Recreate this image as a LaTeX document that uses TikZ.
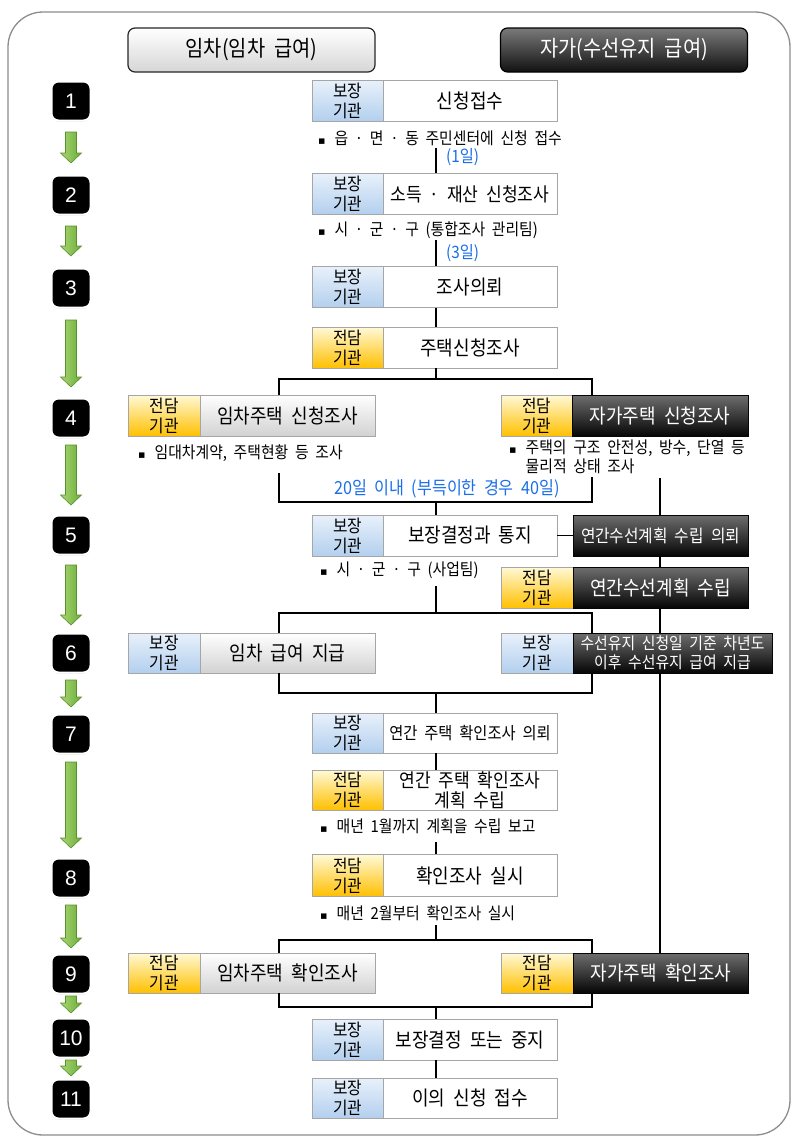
\documentclass[tikz,border=0pt]{standalone}
\usepackage{fontspec}
\setmainfont[WordSpace=2,FakeStretch=0.9]{Noto Sans CJK KR}
\newfontfamily\symf{DejaVu Sans}
\newfontfamily\numf{Liberation Sans}
\usetikzlibrary{shadows}
\definecolor{bgray}{HTML}{A6A6A6}
\definecolor{bluT}{HTML}{E8F1FB}
\definecolor{bluB}{HTML}{B3CFEE}
\definecolor{yelT}{HTML}{FFF9D6}
\definecolor{yelB}{HTML}{FFC000}
\definecolor{grayB}{HTML}{D2D2D2}
\definecolor{dkT}{HTML}{6E6E6E}
\definecolor{dkB}{HTML}{050505}
\definecolor{hdG}{HTML}{D6D6D6}
\definecolor{hdT}{HTML}{7A7A7A}
\definecolor{hdB}{HTML}{111111}
\definecolor{dayblue}{HTML}{1A6FE8}
\definecolor{grnL}{HTML}{A9D871}
\definecolor{grnM}{HTML}{6AAB3A}
\definecolor{grnD}{HTML}{5A8F2E}
\definecolor{framegray}{HTML}{8C8C8C}
\newcommand\blt{{\symf\fontsize{11}{12}\selectfont ▪}\hspace{9pt}}
\newcommand\garr[2]{\draw[garrow] (65.5,#1) -- (76.5,#1) -- (76.5,#2-10) -- (81.5,#2-10) -- (71,#2) -- (60.5,#2-10) -- (65.5,#2-10) -- cycle;}
\tikzset{
 base/.style={draw=bgray, line width=0.8pt, inner sep=0pt, align=center, minimum height=41pt},
 lab/.style={base, minimum width=71pt, font=\fontsize{17.5}{20}\selectfont},
 blu/.style={lab, top color=bluT, bottom color=bluB},
 yel/.style={lab, top color=yelT, bottom color=yelB},
 wbox/.style={base, fill=white, minimum width=174pt, font=\fontsize{20}{21}\selectfont},
 gbox/.style={base, top color=white, bottom color=grayB, minimum width=175pt, font=\fontsize{20}{21}\selectfont},
 dbox/.style={base, draw=dkB, top color=dkT, bottom color=dkB, text=white, minimum width=175pt, font=\fontsize{20}{21}\selectfont},
 note/.style={anchor=west, inner sep=0pt, font=\fontsize{16.5}{19}\selectfont},
 days/.style={inner sep=0pt, text=dayblue, font=\fontsize{17}{19}\selectfont},
 conn/.style={line width=1.6pt, black},
 badge/.style={fill=black, draw=white, line width=2pt, rounded corners=7pt, minimum width=39pt, minimum height=39pt, inner sep=0pt, text=white, font=\numf\fontsize{21}{21}\selectfont, drop shadow={shadow xshift=0pt, shadow yshift=-1pt, opacity=0.4, fill=gray}},
 garrow/.style={draw=grnD, line width=0.6pt, left color=grnL, right color=grnM},
 hdr/.style={rounded corners=7pt, line width=1.2pt, minimum width=247pt, minimum height=44pt, inner sep=0pt, font=\fontsize{22}{24}\selectfont},
}
\begin{document}
\begin{tikzpicture}[x=1pt,y=-1pt]
\useasboundingbox (0,0) rectangle (800,1143);
\draw[framegray, line width=1.3pt, rounded corners=35pt] (8,12) rectangle (790,1135);
% headers
\node[hdr, draw=black!85, top color=white, bottom color=hdG] (h1) at (251.5,50) {임차(임차 급여)};
\node[hdr, draw=black, top color=hdT, bottom color=hdB, text=white] (h2) at (624,50) {자가(수선유지 급여)};
% step badges
\node[badge] (s1) at (71,101) {1};
\node[badge] (s2) at (71,195) {2};
\node[badge] (s3) at (71,288) {3};
\node[badge] (s4) at (71,418) {4};
\node[badge] (s5) at (71,535) {5};
\node[badge] (s6) at (71,653) {6};
\node[badge] (s7) at (71,734) {7};
\node[badge] (s8) at (71,878) {8};
\node[badge] (s9) at (71,974) {9};
\node[badge] (s10) at (71,1038) {10};
\node[badge] (s11) at (71,1099) {11};
% green arrows
\garr{132}{163}
\garr{226}{256}
\garr{320}{387}
\garr{445}{505}
\garr{565}{625}
\garr{680}{707}
\garr{762}{848}
\garr{905}{948}
\garr{996}{1013}
\garr{1060}{1076}
% central column
\node[blu] (l1) at (347.5,100.5) {보장\\기관};
\node[wbox] (t1) at (470,100.5) {신청접수};
\node[blu] (l2) at (347.5,194) {보장\\기관};
\node[wbox, font=\fontsize{19}{21}\selectfont] (t2) at (470,194) {소득 · 재산 신청조사};
\node[blu] (l3) at (347.5,287) {보장\\기관};
\node[wbox] (t3) at (470,287) {조사의뢰};
\node[yel] (l4) at (347.5,347.5) {전담\\기관};
\node[wbox] (t4) at (470,347.5) {주택신청조사};
% row 4
\node[yel, minimum width=72pt] (L4l) at (164,415.5) {전담\\기관};
\node[gbox] (L4t) at (287.5,415.5) {임차주택 신청조사};
\node[yel] (R4l) at (536.5,415.5) {전담\\기관};
\node[dbox, minimum width=176pt] (R4t) at (660,415.5) {자가주택 신청조사};
% row 5
\node[blu] (l5) at (347.5,535.5) {보장\\기관};
\node[wbox] (t5) at (470,535.5) {보장결정과 통지};
\node[dbox, font=\fontsize{17.5}{19}\selectfont] (R5a) at (660.5,535.5) {연간수선계획 수립 의뢰};
\node[yel, minimum width=72pt] (R5bl) at (537,587.5) {전담\\기관};
\node[dbox] (R5bt) at (660.5,587.5) {연간수선계획 수립};
% row 6
\node[blu, minimum width=72pt, minimum height=40pt] (L6l) at (164,653) {보장\\기관};
\node[gbox, minimum height=40pt] (L6t) at (287.5,653) {임차 급여 지급};
\node[blu, minimum width=72pt, minimum height=40pt] (R6l) at (537,653) {보장\\기관};
\node[dbox, minimum width=199pt, minimum height=40pt, font=\fontsize{16.5}{19}\selectfont] (R6t) at (672.5,653) {수선유지 신청일 기준 차년도\\이후 수선유지 급여 지급};
% rows 7-8
\node[blu, minimum height=40pt] (l7) at (347.5,733) {보장\\기관};
\node[wbox, minimum height=40pt, font=\fontsize{17}{20}\selectfont] (t7) at (470,733) {연간 주택 확인조사 의뢰};
\node[yel, minimum height=40pt] (l7b) at (347.5,790) {전담\\기관};
\node[wbox, minimum height=40pt, font=\fontsize{19}{20}\selectfont] (t7b) at (470,790) {연간 주택 확인조사\\계획 수립};
\node[yel, minimum height=42pt] (l8) at (347.5,875.5) {전담\\기관};
\node[wbox, minimum height=42pt] (t8) at (470,875.5) {확인조사 실시};
% row 9
\node[yel, minimum width=72pt, minimum height=40pt] (L9l) at (164,973) {전담\\기관};
\node[gbox, minimum height=40pt] (L9t) at (287.5,973) {임차주택 확인조사};
\node[yel, minimum width=72pt, minimum height=40pt] (R9l) at (537,973) {전담\\기관};
\node[dbox, minimum height=40pt] (R9t) at (661,973) {자가주택 확인조사};
% rows 10-11
\node[blu] (l10) at (347.5,1039.5) {보장\\기관};
\node[wbox] (t10) at (470,1039.5) {보장결정 또는 중지};
\node[blu, minimum height=40pt] (l11) at (347.5,1098) {보장\\기관};
\node[wbox, minimum height=40pt] (t11) at (470,1098) {이의 신청 접수};
% notes
\node[note] (n1) at (318,138) {\blt 읍 · 면 · 동 주민센터에 신청 접수};
\node[note] (n2) at (318,230) {\blt 시 · 군 · 구 (통합조사 관리팀)};
\node[days, anchor=west] (d1) at (446,157) {(1일)};
\node[days, anchor=west] (d2) at (446,253) {(3일)};
\node[note] (n4l) at (138,453) {\blt 임대차계약, 주택현황 등 조사};
\node[note, align=left] (n4r) at (509,457) {\blt 주택의 구조 안전성, 방수, 단열 등\\\hspace*{16.5pt}물리적 상태 조사};
\node[days, font=\fontsize{18}{20}\selectfont] (d4) at (447,489) {20일 이내 (부득이한 경우 40일)};
\node[note] (n5) at (320,570) {\blt 시 · 군 · 구 (사업팀)};
\node[note] (n7) at (320,826) {\blt 매년 1월까지 계획을 수립 보고};
\node[note] (n8) at (320,913) {\blt 매년 2월부터 확인조사 실시};
% helper coordinates
\coordinate (xC) at (436,0);
\coordinate (xL) at (279,0);
\coordinate (xR) at (592,0);
\coordinate (xV) at (660,0);
\coordinate (c1) at (436,148);
\coordinate (c2) at (436,240);
\coordinate (br4) at (436,379);
\coordinate (e4l) at (279,473);
\coordinate (e4r) at (592,477);
\coordinate (bb4) at (436,502);
\coordinate (v4) at (660,478);
\coordinate (c5) at (436,586);
\coordinate (br6) at (436,613);
\coordinate (bb6) at (436,693);
\coordinate (c7) at (436,842);
\coordinate (c8) at (436,925);
\coordinate (br9) at (436,940);
\coordinate (bb9) at (436,1007);
% connectors
\draw[conn] (c1) -- (c1 |- t2.north);
\draw[conn] (c2) -- (c2 |- t3.north);
\draw[conn] (t3.south -| xC) -- (t4.north -| xC);
\draw[conn] (t4.south -| xC) -- (br4);
\draw[conn] (L4t.north -| xL) |- (br4) -| (R4t.north -| xR);
\draw[conn] (e4l) |- (bb4) -| (e4r);
\draw[conn] (bb4) -- (bb4 |- t5.north);
\draw[conn] (v4) -- (v4 |- R5a.north);
\draw[conn] (t5.east) -- (R5a.west);
\draw[conn] (R5a.south -| xV) -- (R5bt.north -| xV);
\draw[conn] (R5bt.south -| xV) -- (R6t.north -| xV);
\draw[conn] (c5) -- (br6);
\draw[conn] (L6t.north -| xL) |- (br6) -| (R6t.north -| xR);
\draw[conn] (L6t.south -| xL) |- (bb6) -| (R6t.south -| xR);
\draw[conn] (bb6) -- (bb6 |- t7.north);
\draw[conn] (t7.south -| xC) -- (t7b.north -| xC);
\draw[conn] (c7) -- (c7 |- t8.north);
\draw[conn] (c8) -- (br9);
\draw[conn] (L9t.north -| xL) |- (br9) -| (R9t.north -| xR);
\draw[conn] (L9t.south -| xL) |- (bb9) -| (R9t.south -| xR);
\draw[conn] (bb9) -- (bb9 |- t10.north);
\draw[conn] (t10.south -| xC) -- (t11.north -| xC);
\draw[conn] (R6t.south -| xV) -- (R9t.north -| xV);
\end{tikzpicture}
\end{document}
